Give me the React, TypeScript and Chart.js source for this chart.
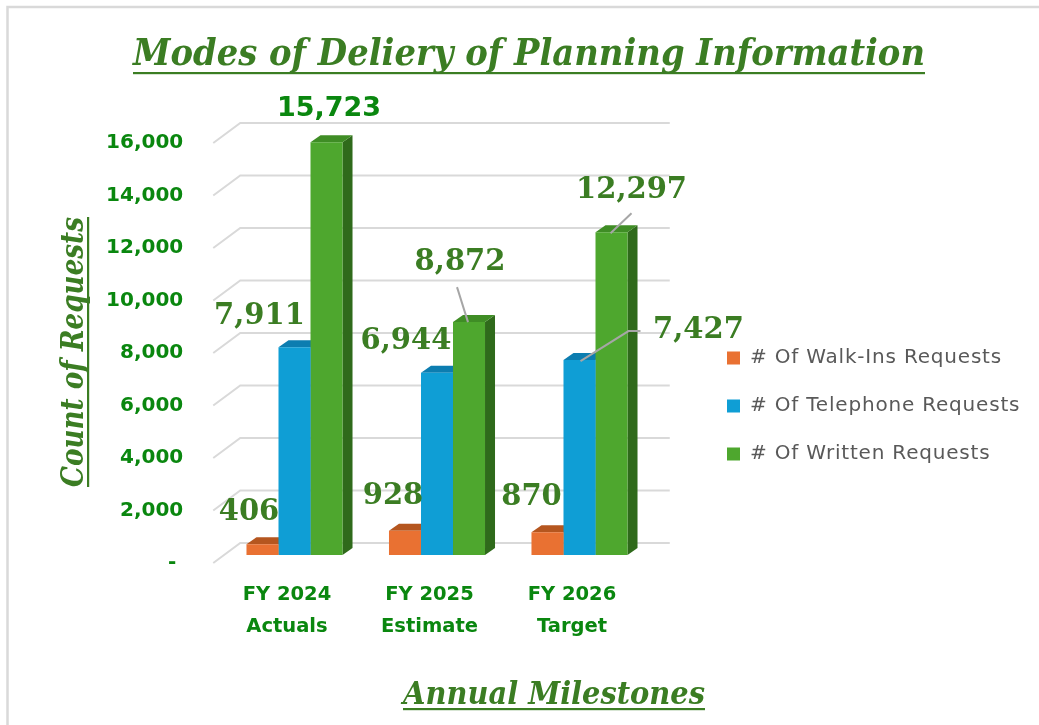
import React, { useEffect, useRef } from 'react';
import { Chart, registerables } from 'chart.js';

Chart.register(...registerables);

// ---------- data ----------
const categories: string[][] = [
  ['FY 2024', 'Actuals'],
  ['FY 2025', 'Estimate'],
  ['FY 2026', 'Target'],
];
const seriesNames = ['# Of Walk-Ins Requests', '# Of Telephone Requests', '# Of Written Requests'];
const walkIns = [406, 928, 870];
const telephone = [7911, 6944, 7427];
const written = [15723, 8872, 12297];
const yTickValues = [0, 2000, 4000, 6000, 8000, 10000, 12000, 14000, 16000];

const TITLE = 'Modes of Deliery of Planning Information';
const Y_TITLE = 'Count of Requests';
const X_TITLE = 'Annual Milestones';

// ---------- styles ----------
const FRONT = ['#E97132', '#0F9ED5', '#4EA72E'];
const TOP = ['#B5561F', '#0C7DB0', '#3F8D25'];
const SIDE = ['#A84E1C', '#0A6E9C', '#2F6A1B'];
const TEXT_GREEN = '#3B7D23';
const TICK_GREEN = '#0A870F';
const GRID = '#D9D9D9';
const LEADER = '#A6A6A6';
const DEPTH_X = 10;
const DEPTH_Y = -7;
const FLOOR_UNITS = 305; // vertical floor offset between front ticks and bar base

type LabelStyle = { dx: number; dy: number; sans?: boolean; leader?: number[][] };
const labelStyles: LabelStyle[][] = [
  [{ dx: -13.5, dy: -32 }, { dx: -12, dy: -34 }, { dx: -16, dy: -35 }],
  [{ dx: -35, dy: -31 }, { dx: -31, dy: -31 }, { dx: 119, dy: -30, leader: [[1, 1], [49, -29], [61, -29]] }],
  [
    { dx: 2.5, dy: -33, sans: true },
    { dx: -9, dy: -60, leader: [[-1, 0], [-12, -35]] },
    { dx: 20, dy: -42, leader: [[-1, 1], [20, -19]] },
  ],
];

function drawFittedText(
  ctx: CanvasRenderingContext2D,
  text: string,
  font: string,
  cx: number,
  baseline: number,
  width: number,
  rotate: boolean,
  underlineOffset: number,
) {
  ctx.save();
  ctx.font = font;
  const w = ctx.measureText(text).width;
  const sx = width / w;
  ctx.translate(cx, baseline);
  if (rotate) ctx.rotate(-Math.PI / 2);
  ctx.scale(sx, 1);
  ctx.fillStyle = TEXT_GREEN;
  ctx.textAlign = 'center';
  ctx.textBaseline = 'alphabetic';
  ctx.fillText(text, 0, 0);
  ctx.fillRect(-w / 2, underlineOffset, w, 2.2);
  ctx.restore();
}

const threeDPlugin = {
  id: 'threeD',
  beforeDatasetsDraw(chart: any) {
    const ctx: CanvasRenderingContext2D = chart.ctx;
    const ca = chart.chartArea;
    const yT = chart.scales.yTicks;
    // 3D gridlines (floor diagonal + back wall)
    ctx.save();
    ctx.strokeStyle = GRID;
    ctx.lineWidth = 2;
    yTickValues.forEach((v) => {
      const fy = yT.getPixelForValue(v);
      ctx.beginPath();
      ctx.moveTo(ca.left - 10, fy);
      ctx.lineTo(ca.left + 17, fy - 20);
      ctx.lineTo(ca.right + 19, fy - 20);
      ctx.stroke();
    });
    ctx.restore();
    // extrusions (top and side faces) drawn before front faces
    chart.data.datasets.forEach((_ds: any, i: number) => {
      const meta = chart.getDatasetMeta(i);
      meta.data.forEach((el: any) => {
        const x0 = el.x - el.width / 2;
        const x1 = el.x + el.width / 2;
        const y = el.y;
        const b = el.base;
        ctx.save();
        ctx.fillStyle = SIDE[i];
        ctx.beginPath();
        ctx.moveTo(x1, y);
        ctx.lineTo(x1 + DEPTH_X, y + DEPTH_Y);
        ctx.lineTo(x1 + DEPTH_X, b + DEPTH_Y);
        ctx.lineTo(x1, b);
        ctx.closePath();
        ctx.fill();
        ctx.fillStyle = TOP[i];
        ctx.beginPath();
        ctx.moveTo(x0, y);
        ctx.lineTo(x1, y);
        ctx.lineTo(x1 + DEPTH_X, y + DEPTH_Y);
        ctx.lineTo(x0 + DEPTH_X, y + DEPTH_Y);
        ctx.closePath();
        ctx.fill();
        ctx.restore();
      });
    });
  },
  afterDatasetsDraw(chart: any) {
    const ctx: CanvasRenderingContext2D = chart.ctx;
    chart.data.datasets.forEach((ds: any, i: number) => {
      const meta = chart.getDatasetMeta(i);
      meta.data.forEach((el: any, j: number) => {
        const st = labelStyles[i][j];
        const v = ds.data[j] as number;
        if (st.leader) {
          ctx.save();
          ctx.strokeStyle = LEADER;
          ctx.lineWidth = 2;
          ctx.beginPath();
          st.leader.forEach((p, k) => {
            if (k === 0) ctx.moveTo(el.x + p[0], el.y + p[1]);
            else ctx.lineTo(el.x + p[0], el.y + p[1]);
          });
          ctx.stroke();
          ctx.restore();
        }
        ctx.save();
        ctx.textAlign = 'center';
        ctx.textBaseline = 'middle';
        if (st.sans) {
          ctx.font = 'bold 27px "DejaVu Sans"';
          ctx.fillStyle = TICK_GREEN;
        } else {
          ctx.font = 'bold 29px "DejaVu Serif"';
          ctx.fillStyle = TEXT_GREEN;
        }
        ctx.fillText(v.toLocaleString('en-US'), el.x + st.dx, el.y + st.dy);
        ctx.restore();
      });
    });
  },
  afterDraw(chart: any) {
    const ctx: CanvasRenderingContext2D = chart.ctx;
    // outer border (top and left)
    ctx.save();
    ctx.strokeStyle = '#D9D9D9';
    ctx.lineWidth = 2.5;
    ctx.beginPath();
    ctx.moveTo(1039, 7);
    ctx.lineTo(7.5, 7);
    ctx.lineTo(7.5, 725);
    ctx.stroke();
    ctx.restore();
    // titles
    drawFittedText(ctx, TITLE, 'italic bold 37px "DejaVu Serif"', 529, 65, 792, false, 7);
    drawFittedText(ctx, Y_TITLE, 'italic bold 31px "DejaVu Serif"', 83, 352, 270, true, 4);
    drawFittedText(ctx, X_TITLE, 'italic bold 31px "DejaVu Serif"', 554, 704, 302, false, 4);
    // legend
    const legendY = [358, 406, 454];
    chart.data.datasets.forEach((ds: any, i: number) => {
      ctx.save();
      ctx.fillStyle = FRONT[i];
      ctx.fillRect(727, legendY[i] - 6.5, 13, 13);
      ctx.fillStyle = '#595959';
      ctx.font = '20px "DejaVu Sans"';
      (ctx as any).letterSpacing = '0.8px';
      ctx.textAlign = 'left';
      ctx.textBaseline = 'middle';
      ctx.fillText(ds.label, 750, legendY[i]);
      ctx.restore();
    });
  },
};

export default function App() {
  const ref = useRef<HTMLCanvasElement | null>(null);
  useEffect(() => {
    if (!ref.current) return;
    const chart = new Chart(ref.current, {
      type: 'bar',
      data: {
        labels: categories,
        datasets: [
          { label: seriesNames[0], data: walkIns, backgroundColor: FRONT[0], yAxisID: 'yBars' },
          { label: seriesNames[1], data: telephone, backgroundColor: FRONT[1], yAxisID: 'yBars' },
          { label: seriesNames[2], data: written, backgroundColor: FRONT[2], yAxisID: 'yBars' },
        ],
      },
      options: {
        responsive: false,
        animation: false,
        events: [],
        datasets: { bar: { categoryPercentage: 0.674, barPercentage: 1.0 } },
        layout: { padding: { top: 135, right: 388.25, left: 0, bottom: 0 } },
        plugins: { legend: { display: false }, tooltip: { enabled: false }, title: { display: false } },
        scales: {
          x: {
            grid: { display: false },
            border: { display: false },
            ticks: {
              color: TICK_GREEN,
              font: { family: 'DejaVu Sans', weight: 'bold', size: 19.5, lineHeight: 1.64 },
              padding: 8,
              labelOffset: -7.5,
              maxRotation: 0,
              autoSkip: false,
            },
            afterFit: (s: any) => {
              s.height = 162;
            },
          },
          yTicks: {
            type: 'linear',
            position: 'left',
            min: 0,
            max: 16000 + FLOOR_UNITS,
            grid: { display: false },
            border: { display: false },
            afterBuildTicks: (s: any) => {
              s.ticks = yTickValues.map((v) => ({ value: v }));
            },
            ticks: {
              color: TICK_GREEN,
              font: { family: 'DejaVu Sans', weight: 'bold', size: 20 },
              padding: 32,
              callback: (v: any) => (Number(v) === 0 ? '- ' : Number(v).toLocaleString('en-US')),
            },
            afterFit: (s: any) => {
              s.width = 223.25;
            },
          },
          yBars: {
            type: 'linear',
            display: false,
            min: -FLOOR_UNITS,
            max: 16000,
          },
        },
      },
      plugins: [threeDPlugin],
    } as any);
    return () => chart.destroy();
  }, []);
  return (
    <div style={{ position: 'fixed', left: 0, top: 0, width: 1039, height: 725, background: '#fff' }}>
      <canvas ref={ref} width={1039} height={725} style={{ display: 'block' }} />
    </div>
  );
}
